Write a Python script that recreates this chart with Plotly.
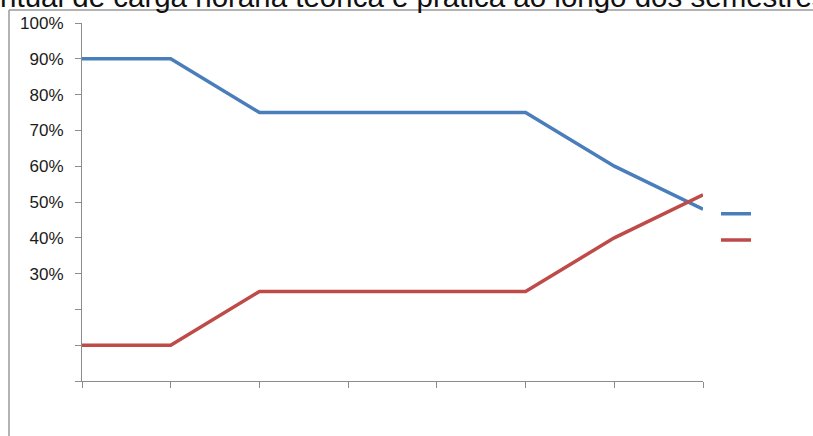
import plotly.graph_objects as go

# Data
semestres = [1, 2, 3, 4, 5, 6, 7, 8]
teorica = [90, 90, 75, 75, 75, 75, 60, 48]
pratica = [10, 10, 25, 25, 25, 25, 40, 52]
ytick_vals = [0, 10, 20, 30, 40, 50, 60, 70, 80, 90, 100]
ytick_text = ["", "", "", "30%", "40%", "50%", "60%", "70%", "80%", "90%", "100%"]
titulo = "Percentual de carga horária teórica e prática ao longo dos semestres"

W, H = 813, 436
L, R, T, B = 82, 110, 23, 55
pw, ph = W - L - R, H - T - B

def px_x(x):
    return (x - L) / pw

def px_y(y):
    return (H - B - y) / ph

fig = go.Figure()
fig.add_trace(go.Scatter(x=semestres, y=teorica, mode="lines", name="",
                         line=dict(color="#4A7EBB", width=3.5)))
fig.add_trace(go.Scatter(x=semestres, y=pratica, mode="lines", name=" ",
                         line=dict(color="#BE4B48", width=3.5)))

axis_col = "#8C8C8C"
fig.update_layout(
    width=W, height=H,
    margin=dict(l=L, r=R, t=T, b=B, pad=0),
    paper_bgcolor="white", plot_bgcolor="white",
    font=dict(family="Liberation Sans, Arial, sans-serif", color="#1a1a1a"),
    showlegend=True,
    legend=dict(x=px_x(716), y=px_y(227), xanchor="left", yanchor="middle",
                font=dict(size=18), bgcolor="rgba(0,0,0,0)", borderwidth=0,
                itemwidth=30),
    xaxis=dict(range=[1, 8], showgrid=False, zeroline=False,
               showline=True, linecolor=axis_col, linewidth=1,
               ticks="outside", ticklen=6, tickcolor=axis_col,
               tickvals=semestres, showticklabels=False),
    yaxis=dict(range=[0, 100], showgrid=False, zeroline=False,
               showline=True, linecolor=axis_col, linewidth=1,
               ticks="outside", ticklen=6, tickcolor=axis_col,
               tickvals=ytick_vals, ticktext=ytick_text,
               tickfont=dict(size=17, color="#1a1a1a"),
               ticklabelstandoff=8),
    shapes=[
        dict(type="line", xref="paper", yref="paper",
             x0=px_x(9), x1=px_x(W + 20), y0=px_y(10), y1=px_y(10),
             line=dict(color="#9A9A9A", width=1.5)),
        dict(type="line", xref="paper", yref="paper",
             x0=px_x(9), x1=px_x(9), y0=px_y(10), y1=px_y(H + 20),
             line=dict(color="#9A9A9A", width=1.5)),
    ],
    annotations=[
        dict(text=titulo, xref="paper", yref="paper",
             x=px_x(375), y=px_y(15.5), xanchor="center", yanchor="bottom",
             showarrow=False, font=dict(size=29.5, color="#111111"))
    ],
)

fig.write_html("out.html")
